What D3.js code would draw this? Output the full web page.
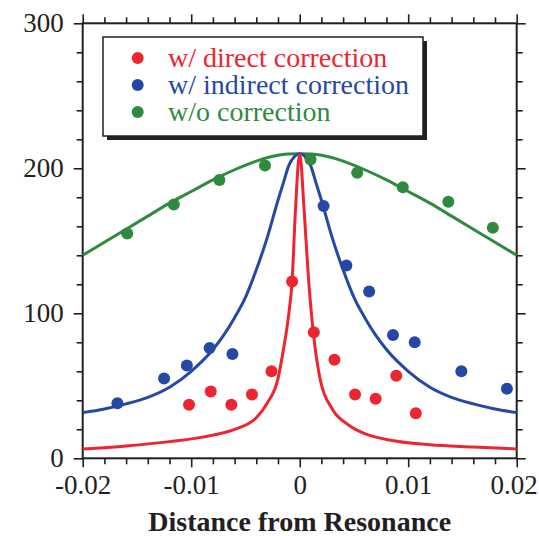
<!DOCTYPE html>
<meta charset="utf-8">
<style>
body { margin: 0; background: #fff; }
text { font-family: "Liberation Serif", "Times New Roman", serif; }
</style>
<svg width="539" height="536"></svg>
<script src="https://d3js.org/d3.v7.min.js"></script>
<script>

// ---- data ----
var xTicks = [-0.02, -0.01, 0, 0.01, 0.02];
var xTickLabels = ["-0.02", "-0.01", "0", "0.01", "0.02"];
var yTicks = [0, 100, 200, 300];
var yTickLabels = ["0", "100", "200", "300"];
var xMinor = [-0.018, -0.016, -0.014, -0.012, -0.008, -0.006, -0.004, -0.002,
              0.002, 0.004, 0.006, 0.008, 0.012, 0.014, 0.016, 0.018];
var yMinor = [20, 40, 60, 80, 120, 140, 160, 180, 220, 240, 260, 280];

var seriesNames = ["w/ direct correction", "w/ indirect correction", "w/o correction"];

var directX = [-0.0102, -0.0082, -0.0063, -0.0044, -0.0026, -0.0007, 0.0013, 0.0032, 0.0051, 0.0070, 0.0089, 0.0107];
var directY = [37, 46, 37, 44, 60, 122, 87, 68, 44, 41, 57, 31];

var indirectX = [-0.0168, -0.0125, -0.0104, -0.0083, -0.0062, 0.0022, 0.0043, 0.0064, 0.0086, 0.0106, 0.0149, 0.0191];
var indirectY = [38, 55, 64, 76, 72, 174, 133, 115, 85, 80, 60, 48];

var noCorrX = [-0.0159, -0.0116, -0.0074, -0.0032, 0.0010, 0.0053, 0.0095, 0.0137, 0.0178];
var noCorrY = [155, 175, 192, 202, 206, 197, 187, 177, 159];

// fitted curves
var directFitX = [-0.02, -0.016, -0.012, -0.008, -0.006, -0.004, -0.003, -0.002, -0.0015, -0.001, -0.0007, -0.0004, 0,
                  0.0004, 0.0008, 0.00125, 0.0019, 0.003, 0.0045, 0.006, 0.008, 0.012, 0.016, 0.02];
var directFitY = [6.4, 8.5, 11.5, 16, 20, 28, 38, 55, 75, 100, 122, 170, 210,
                  172, 125, 87, 54, 34, 23, 17, 13, 9.3, 7.8, 6.5];

var indirectFitX = [-0.02, -0.018, -0.016, -0.014, -0.012, -0.01, -0.008, -0.007, -0.006, -0.005, -0.004, -0.003, -0.002, -0.0015, -0.001, -0.0005, 0,
                    0.0005, 0.001, 0.0015, 0.002, 0.003, 0.004, 0.005, 0.006, 0.007, 0.008, 0.01, 0.012, 0.014, 0.016, 0.018, 0.02];
var indirectFitY = [31.5, 34, 37.5, 42, 49, 60, 75, 85, 97, 111, 130, 152, 178, 190, 202, 208, 210,
                    208, 202, 190, 178, 152, 130, 111, 97, 85, 75, 60, 49, 42, 37.5, 34, 31.5];

var noCorrFitX = [-0.02, -0.018, -0.016, -0.014, -0.012, -0.01, -0.008, -0.006, -0.004, -0.002, 0,
                  0.002, 0.004, 0.006, 0.008, 0.01, 0.012, 0.014, 0.016, 0.018, 0.02];
var noCorrFitY = [140, 149, 158, 167, 176, 184, 192, 199, 205, 209, 210,
                  209, 205, 199, 192, 184, 176, 167, 158, 149, 140];

var colours = ["#ec2530", "#2548a6", "#2e8a3e"];

// ---- layout ----
var svg = d3.select("svg");
var plotLeft = 82.7, plotRight = 516.7, plotTop = 23.3, plotBottom = 458.3;
var ink = "#231f20";

var x = d3.scaleLinear().domain([-0.02, 0.02]).range([plotLeft, plotRight]);
var y = d3.scaleLinear().domain([0, 300]).range([plotBottom, plotTop]);

function styleAxis(g) {
        g.select(".domain").remove();
        g.selectAll(".tick line").attr("stroke", ink).attr("stroke-width", 1.6);
        g.selectAll(".tick text")
         .attr("fill", ink)
         .style("font-family", "'Liberation Serif', 'Times New Roman', serif")
         .style("font-size", "27px");
}

// minor ticks
svg.append("g").attr("transform", "translate(0," + plotBottom + ")")
   .call(d3.axisBottom(x).tickValues(xMinor).tickSize(6).tickFormat("")).call(styleAxis);
svg.append("g").attr("transform", "translate(0," + plotTop + ")")
   .call(d3.axisTop(x).tickValues(xMinor).tickSize(6).tickFormat("")).call(styleAxis);
svg.append("g").attr("transform", "translate(" + plotLeft + ",0)")
   .call(d3.axisLeft(y).tickValues(yMinor).tickSize(6).tickFormat("")).call(styleAxis);
svg.append("g").attr("transform", "translate(" + plotRight + ",0)")
   .call(d3.axisRight(y).tickValues(yMinor).tickSize(6).tickFormat("")).call(styleAxis);

// major ticks
var xAxisG = svg.append("g").attr("transform", "translate(0," + plotBottom + ")")
   .call(d3.axisBottom(x).tickValues(xTicks).tickSize(9).tickPadding(8)
           .tickFormat(function(d, i) { return xTickLabels[i]; }))
   .call(styleAxis);
// last label sits against the page edge, nudge it in a little
xAxisG.selectAll(".tick text").filter(function(d) { return d === 0.02; }).attr("dx", -3);

svg.append("g").attr("transform", "translate(0," + plotTop + ")")
   .call(d3.axisTop(x).tickValues(xTicks).tickSize(9).tickFormat("")).call(styleAxis);
svg.append("g").attr("transform", "translate(" + plotLeft + ",0)")
   .call(d3.axisLeft(y).tickValues(yTicks).tickSize(9).tickPadding(10)
           .tickFormat(function(d, i) { return yTickLabels[i]; }))
   .call(styleAxis);
svg.append("g").attr("transform", "translate(" + plotRight + ",0)")
   .call(d3.axisRight(y).tickValues(yTicks).tickSize(9).tickFormat("")).call(styleAxis);

// frame
svg.append("rect")
   .attr("x", plotLeft).attr("y", plotTop)
   .attr("width", plotRight - plotLeft).attr("height", plotBottom - plotTop)
   .attr("fill", "none").attr("stroke", ink).attr("stroke-width", 2);

// axis title
svg.append("text")
   .attr("x", (plotLeft + plotRight) / 2).attr("y", 531)
   .attr("text-anchor", "middle")
   .style("font-size", "28px").style("font-weight", "bold")
   .attr("fill", ink)
   .text("Distance from Resonance");

// ---- curves ----
var sharpLine = d3.line()
             .x(function(d) { return x(d[0]); })
             .y(function(d) { return y(d[1]); })
             .curve(d3.curveMonotoneX);
var smoothLine = d3.line()
             .x(function(d) { return x(d[0]); })
             .y(function(d) { return y(d[1]); })
             .curve(d3.curveNatural);

var fits = [
        d3.zip(noCorrFitX, noCorrFitY),
        d3.zip(indirectFitX, indirectFitY),
        d3.zip(directFitX, directFitY)
];
var fitColours = [colours[2], colours[1], colours[0]];

var plot = svg.append("g");
plot.selectAll("path.fit")
    .data(fits)
    .enter().append("path")
    .attr("class", "fit")
    .attr("d", function(d, i) { return i === 0 ? smoothLine(d) : sharpLine(d); })
    .attr("fill", "none")
    .attr("stroke", function(d, i) { return fitColours[i]; })
    .attr("stroke-width", 3);

// ---- points ----
var pointSets = [
        d3.zip(noCorrX, noCorrY),
        d3.zip(indirectX, indirectY),
        d3.zip(directX, directY)
];
pointSets.forEach(function(pts, i) {
        plot.append("g").selectAll("circle")
            .data(pts)
            .enter().append("circle")
            .attr("cx", function(d) { return x(d[0]); })
            .attr("cy", function(d) { return y(d[1]); })
            .attr("r", 6)
            .attr("fill", fitColours[i]);
});

// ---- legend ----
var legX = 103, legY = 37, legW = 320, legH = 99;
svg.append("rect")
   .attr("x", legX + 4).attr("y", legY + 4)
   .attr("width", legW).attr("height", legH)
   .attr("fill", ink);
svg.append("rect")
   .attr("x", legX).attr("y", legY)
   .attr("width", legW).attr("height", legH)
   .attr("fill", "#fff").attr("stroke", ink).attr("stroke-width", 1.5);

var legend = svg.append("g").selectAll("g")
                .data(seriesNames)
                .enter().append("g")
                .attr("transform", function(d, i) { return "translate(0," + (58 + i * 27) + ")"; });
legend.append("circle")
      .attr("cx", 137.7).attr("cy", 0).attr("r", 6)
      .attr("fill", function(d, i) { return colours[i]; });
legend.append("text")
      .attr("x", 168).attr("y", 9)
      .style("font-size", "28px")
      .attr("fill", function(d, i) { return colours[i]; })
      .text(function(d) { return d; });

</script>
